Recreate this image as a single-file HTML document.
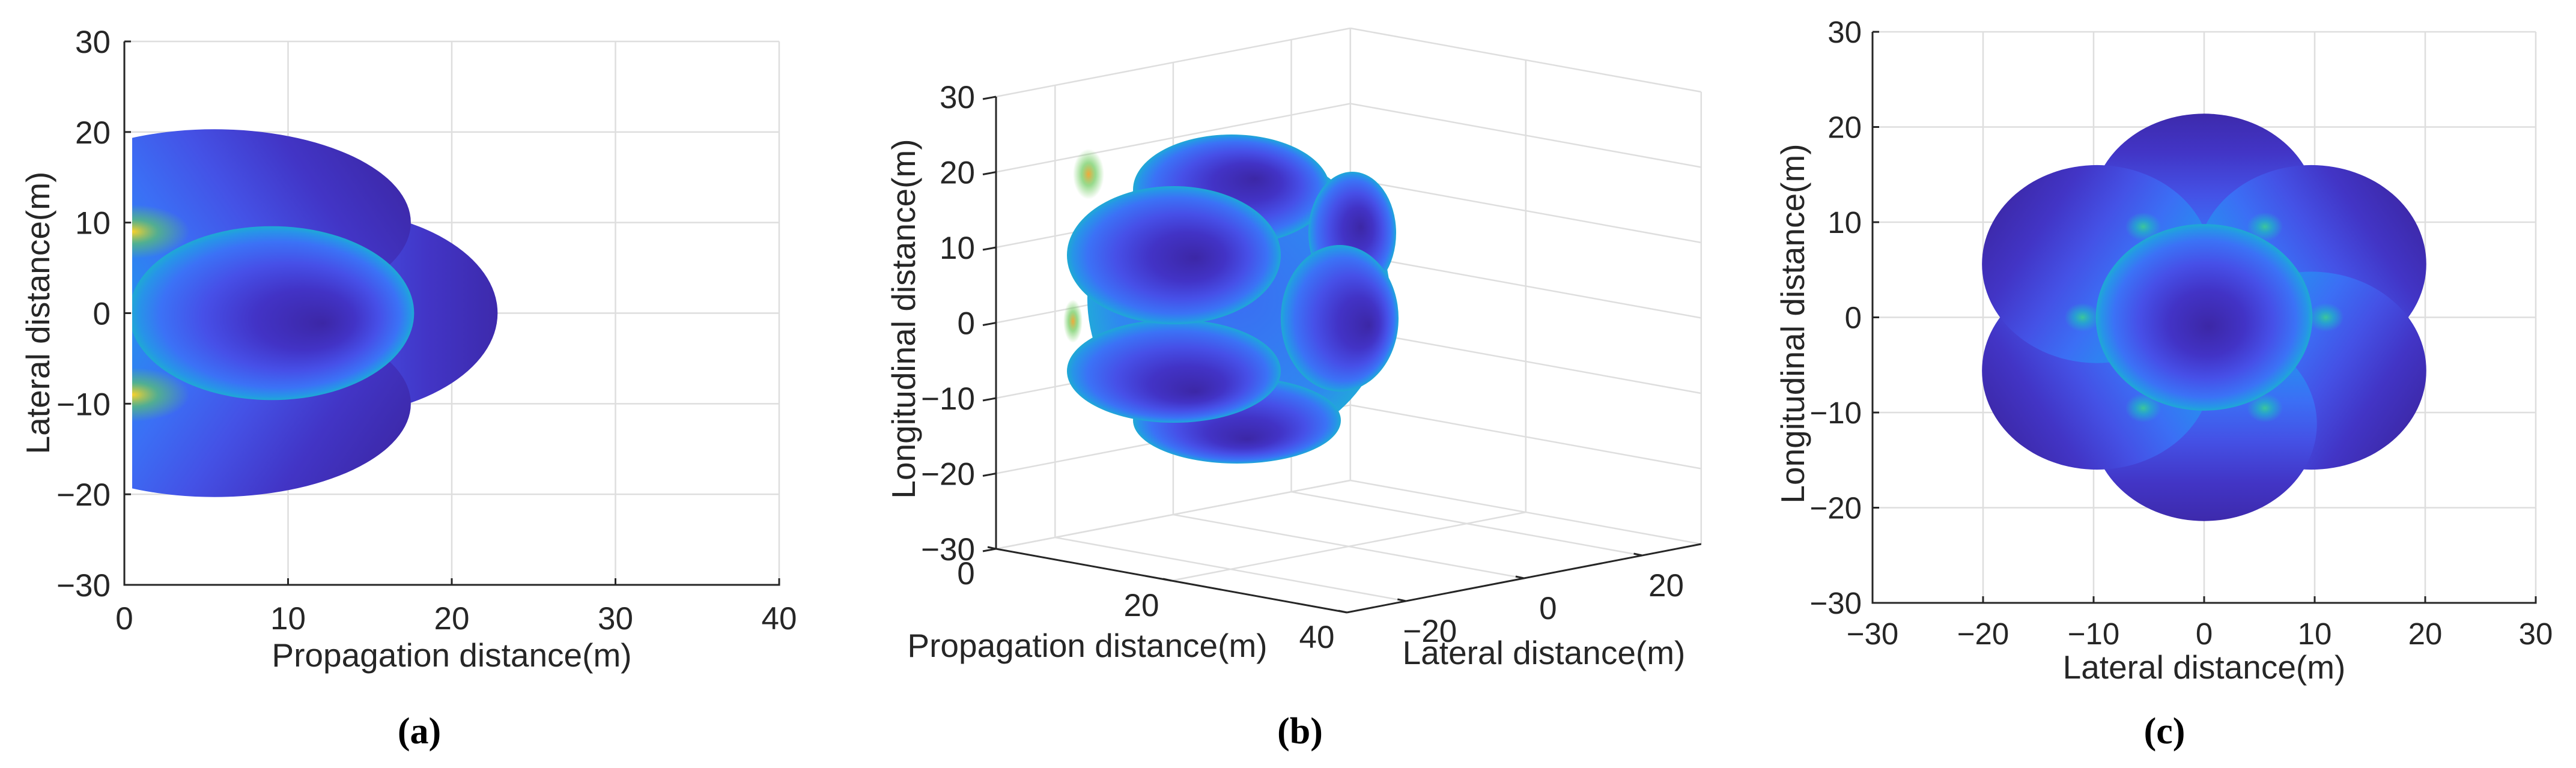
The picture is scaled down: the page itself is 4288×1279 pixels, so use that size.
<!DOCTYPE html>
<html><head><meta charset="utf-8"><style>
html,body{margin:0;padding:0;background:#fff;}
svg{display:block;}
text{font-family:"Liberation Sans",Arial,sans-serif;fill:#262626;}
.cap{font-family:"Liberation Serif",serif;font-weight:bold;fill:#000;}
</style></head><body>
<svg id="fig" width="4288" height="1279" viewBox="0 0 4288 1279" xmlns="http://www.w3.org/2000/svg">
<defs id="defs">
  <clipPath id="clipA"><rect x="220" y="60" width="1080" height="920"/></clipPath>
</defs>
<g id="panelA"></g>
<g id="panelB"></g>
<g id="panelC"></g>
</svg>
<script>
// ---------- data ----------
const aXTicks = [0, 10, 20, 30, 40];
const aYTicks = [-30, -20, -10, 0, 10, 20, 30];
const aLobeCX = [12, 5.5, 5.5];
const aLobeCY = [0, 10, -10];
const aLobeRX = [10.8, 12, 12];
const aLobeRY = [11.5, 10.3, 10.3];
const aLobeDark = [0, 18, -18];
const aMainLobe = [9, 0, 8.7, 9.6];
const aHotY = [9, -9];

const bZTicks = [-30, -20, -10, 0, 10, 20, 30];
const bPropTicks = [0, 20, 40];
const bLatTicks = [-20, 0, 20];
const bLobeX = [2059, 2050, 2251, 2230, 1954, 1954];
const bLobeY = [700, 316, 388, 530, 618, 425];
const bLobeRX = [173, 164, 73, 98, 178, 178];
const bLobeRY = [72, 92, 102, 122, 86, 115];
const bLobeFX = [0.55, 0.62, 0.6, 0.75, 0.6, 0.6];
const bLobeFY = [0.72, 0.4, 0.45, 0.55, 0.7, 0.52];

const cXTicks = [-30, -20, -10, 0, 10, 20, 30];
const cYTicks = [-30, -20, -10, 0, 10, 20, 30];
const cOuterAngle = [90, 30, -30, -90, -150, 150];
const cOuterDist = [11.2, 11.2, 11.2, 11.2, 11.2, 11.2];
const cOuterR = [10.2, 10.4, 10.4, 10.2, 10.4, 10.4];
const cCenterR = [9.8];
const cSpotAngle = [0, 60, 120, 180, 240, 300];

// ---------- helpers ----------
const NS = 'http://www.w3.org/2000/svg';
function mk(tag, attrs, parent) {
  const e = document.createElementNS(NS, tag);
  for (const k in attrs) e.setAttribute(k, attrs[k]);
  parent.appendChild(e);
  return e;
}
const defs = document.getElementById('defs');
let gid = 0;
function radGrad(fx, fy, stops) {
  const id = 'g' + (gid++);
  const g = mk('radialGradient', {id: id, cx: 0.5, cy: 0.5, r: 0.5, fx: fx, fy: fy}, defs);
  stops.forEach(s => mk('stop', {offset: s[0], 'stop-color': s[1]}, g));
  return id;
}
const RSTOPS = [[0, '#3c27a6'], [0.35, '#4233c6'], [0.62, '#4650e8'], [0.84, '#3b72f6'], [0.95, '#2794e8'], [1, '#1fa9d4']];
function linGrad(deg, stops) {
  const id = 'g' + (gid++);
  const a = deg * Math.PI / 180;
  const g = mk('linearGradient', {id: id, x1: 0.5 - 0.5 * Math.cos(a), y1: 0.5 + 0.5 * Math.sin(a), x2: 0.5 + 0.5 * Math.cos(a), y2: 0.5 - 0.5 * Math.sin(a)}, defs);
  stops.forEach(s => mk('stop', {offset: s[0], 'stop-color': s[1]}, g));
  return id;
}
const LSTOPS = [[0, '#1cb0d0'], [0.15, '#2590ee'], [0.38, '#3b6ff5'], [0.58, '#4452e6'], [0.8, '#4235c6'], [1, '#3d2aac']];
function spotGrad(c1, c2) {
  const id = 'g' + (gid++);
  const g = mk('radialGradient', {id: id, cx: 0.5, cy: 0.5, r: 0.5}, defs);
  mk('stop', {offset: 0, 'stop-color': c1, 'stop-opacity': 1}, g);
  mk('stop', {offset: 0.45, 'stop-color': c2, 'stop-opacity': 0.7}, g);
  mk('stop', {offset: 1, 'stop-color': c2, 'stop-opacity': 0}, g);
  return id;
}
const GRID = '#dedede', AX = '#262626';

// ---------- panel A ----------
(function () {
  const P = document.getElementById('panelA');
  const L = 207, R = 1297, T = 69, B = 974;
  const ax = x => L + (x - 0) / 40 * (R - L);
  const ay = y => B - (y + 30) / 60 * (B - T);
  aXTicks.forEach(t => {
    const l = mk('line', {x1: ax(t), x2: ax(t), y1: T, y2: B, stroke: GRID, 'stroke-width': 2.5}, P);
    
    
  });
  aYTicks.forEach(t => {
    const l = mk('line', {x1: L, x2: R, y1: ay(t), y2: ay(t), stroke: GRID, 'stroke-width': 2.5}, P);
    
    
  });
  const surf = mk('g', {'clip-path': 'url(#clipA)'}, P);
  
  
  for (let i = 0; i < aLobeCX.length; i++) {
    const id = linGrad(aLobeDark[i], LSTOPS);
    const e = mk('ellipse', {cx: ax(aLobeCX[i]), cy: ay(aLobeCY[i]), rx: aLobeRX[i] / 40 * (R - L), ry: aLobeRY[i] / 60 * (B - T), fill: 'url(#' + id + ')'}, surf);
    
    
  }
  const mid = radGrad(0.68, 0.56, RSTOPS);
  const me = mk('ellipse', {cx: ax(aMainLobe[0]), cy: ay(aMainLobe[1]), rx: aMainLobe[2] / 40 * (R - L), ry: aMainLobe[3] / 60 * (B - T), fill: 'url(#' + mid + ')'}, surf);
  
  
  aHotY.forEach(y => {
    const id = spotGrad('#fbd02a', '#5cc56a');
    const e = mk('ellipse', {cx: ax(0.5), cy: ay(y), rx: 95, ry: 45, fill: 'url(#' + id + ')'}, surf);
    
    
  });
  const ln = (x1, y1, x2, y2, n) => {
    const l = mk('line', {x1: x1, y1: y1, x2: x2, y2: y2, stroke: AX, 'stroke-width': 3}, P);
    
    
  };
  ln(L, T, L, B + 1.5, 'a-y-axis');
  ln(L - 1.5, B, R + 1.5, B, 'a-x-axis');
  aXTicks.forEach(t => ln(ax(t), B, ax(t), B - 11, 'a-x-tick'));
  aYTicks.forEach(t => ln(L, ay(t), L + 11, ay(t), 'a-y-tick'));
  aXTicks.forEach(t => {
    const tx = mk('text', {x: ax(t), y: 1048, 'font-size': 53, 'text-anchor': 'middle'}, P);
    tx.textContent = String(t);
    
    
  });
  aYTicks.forEach(t => {
    const tx = mk('text', {x: 184, y: ay(t) + 19, 'font-size': 53, 'text-anchor': 'end'}, P);
    tx.textContent = String(t).replace('-', '\u2212');
    
    
  });
  let t1 = mk('text', {x: (L + R) / 2, y: 1110, 'font-size': 55, 'text-anchor': 'middle'}, P);
  t1.textContent = 'Propagation distance(m)';
  
  
  let t2 = mk('text', {x: 0, y: 0, 'font-size': 55, 'text-anchor': 'middle', transform: 'translate(82,521) rotate(-90)'}, P);
  t2.textContent = 'Lateral distance(m)';
  
  
  let c = mk('text', {x: 698, y: 1238, 'font-size': 62, 'text-anchor': 'middle', class: 'cap'}, P);
  c.textContent = '(a)';
  
  
})();

// ---------- panel B ----------
(function () {
  const P = document.getElementById('panelB');
  const O = [1658, 914];
  const u = [14.6, 2.65], v = [9.83, -1.9], w = [0, -12.55];
  const pr = (p, l, z) => [O[0] + p * u[0] + (l + 30) * v[0] + (z + 30) * w[0], O[1] + p * u[1] + (l + 30) * v[1] + (z + 30) * w[1]];
  const seg = (a, b, col, sw, n) => {
    const l = mk('line', {x1: a[0], y1: a[1], x2: b[0], y2: b[1], stroke: col, 'stroke-width': sw}, P);
    
    
  };
  bZTicks.forEach(z => {
    seg(pr(0, -30, z), pr(0, 30, z), GRID, 2.5, 'b-wall-gridline');
    seg(pr(0, 30, z), pr(40, 30, z), GRID, 2.5, 'b-wall-gridline');
  });
  [-30].concat(bLatTicks).concat([30]).forEach(l => seg(pr(0, l, -30), pr(0, l, 30), GRID, 2.5, 'b-wall-gridline'));
  bPropTicks.forEach(p => seg(pr(p, 30, -30), pr(p, 30, 30), GRID, 2.5, 'b-wall-gridline'));
  bLatTicks.forEach(l => seg(pr(0, l, -30), pr(40, l, -30), GRID, 2.5, 'b-floor-gridline'));
  bPropTicks.forEach(p => seg(pr(p, -30, -30), pr(p, 30, -30), GRID, 2.5, 'b-floor-gridline'));
  const surf = mk('g', {}, P);
  
  
  const hot = spotGrad('#f3a93a', '#6ccb5c');
  [[1812, 290, 26, 42], [1786, 535, 16, 36]].forEach(s => {
    const e = mk('ellipse', {cx: s[0], cy: s[1], rx: s[2], ry: s[3], fill: 'url(#' + hot + ')'}, surf);
    
    
  });
  const baseId = radGrad(0.5, 0.5, [[0, '#3a6ef3'], [0.8, '#2f88f0'], [1, '#22a6dc']]);
  const base = mk('ellipse', {cx: 2062, cy: 497, rx: 252, ry: 250, fill: 'url(#' + baseId + ')'}, surf);
  
  
  for (let i = 0; i < bLobeX.length; i++) {
    const id = radGrad(bLobeFX[i], bLobeFY[i], RSTOPS);
    const e = mk('ellipse', {cx: bLobeX[i], cy: bLobeY[i], rx: bLobeRX[i], ry: bLobeRY[i], fill: 'url(#' + id + ')'}, surf);
    
    
  }
  seg(pr(0, -30, -30), pr(0, -30, 30), AX, 3, 'b-z-axis');
  seg(pr(0, -30, -30), pr(40, -30, -30), AX, 3, 'b-prop-axis');
  seg(pr(40, -30, -30), pr(40, 30, -30), AX, 3, 'b-lat-axis');
  bZTicks.forEach(z => { const a = pr(0, -30, z); seg(a, [a[0] - 22, a[1] + 4], AX, 3, 'b-z-tick'); });
  bPropTicks.forEach(p => { const a = pr(p, -30, -30); seg(a, [a[0] - 14, a[1] - 3], AX, 3, 'b-prop-tick'); });
  bLatTicks.forEach(l => { const a = pr(40, l, -30); seg(a, [a[0] - 14, a[1] - 3], AX, 3, 'b-lat-tick'); });
  bZTicks.forEach(z => {
    const a = pr(0, -30, z);
    const tx = mk('text', {x: 1623, y: a[1] + 19, 'font-size': 53, 'text-anchor': 'end'}, P);
    tx.textContent = String(z).replace('-', '\u2212');
    
    
  });
  bPropTicks.forEach(p => {
    const a = pr(p, -30, -30);
    const tx = mk('text', {x: a[0] - 50, y: a[1] + 59, 'font-size': 53, 'text-anchor': 'middle'}, P);
    tx.textContent = String(p);
    
    
  });
  bLatTicks.forEach(l => {
    const a = pr(40, l, -30);
    const tx = mk('text', {x: a[0] + 40, y: a[1] + 68, 'font-size': 53, 'text-anchor': 'middle'}, P);
    tx.textContent = String(l).replace('-', '\u2212');
    
    
  });
  let t1 = mk('text', {x: 1810, y: 1094, 'font-size': 55, 'text-anchor': 'middle'}, P);
  t1.textContent = 'Propagation distance(m)';
  
  
  let t2 = mk('text', {x: 2570, y: 1106, 'font-size': 55, 'text-anchor': 'middle'}, P);
  t2.textContent = 'Lateral distance(m)';
  
  
  let t3 = mk('text', {x: 0, y: 0, 'font-size': 55, 'text-anchor': 'middle', transform: 'translate(1523,531) rotate(-90)'}, P);
  t3.textContent = 'Longitudinal distance(m)';
  
  
  let c = mk('text', {x: 2164, y: 1238, 'font-size': 62, 'text-anchor': 'middle', class: 'cap'}, P);
  c.textContent = '(b)';
  
  
})();

// ---------- panel C ----------
(function () {
  const P = document.getElementById('panelC');
  const L = 3117, R = 4221, T = 53, B = 1004;
  const cx = x => L + (x + 30) / 60 * (R - L);
  const cy = y => B - (y + 30) / 60 * (B - T);
  const sx = (R - L) / 60, sy = (B - T) / 60;
  cXTicks.forEach(t => {
    const l = mk('line', {x1: cx(t), x2: cx(t), y1: T, y2: B, stroke: GRID, 'stroke-width': 2.5}, P);
    
    
  });
  cYTicks.forEach(t => {
    const l = mk('line', {x1: L, x2: R, y1: cy(t), y2: cy(t), stroke: GRID, 'stroke-width': 2.5}, P);
    
    
  });
  const surf = mk('g', {}, P);
  
  
  for (let i = 0; i < cOuterAngle.length; i++) {
    const a = cOuterAngle[i] * Math.PI / 180;
    const x = cOuterDist[i] * Math.cos(a), y = cOuterDist[i] * Math.sin(a);
    const id = linGrad(cOuterAngle[i], LSTOPS);
    const e = mk('ellipse', {cx: cx(x), cy: cy(y), rx: cOuterR[i] * sx, ry: cOuterR[i] * sy, fill: 'url(#' + id + ')'}, surf);
    
    
  }
  const cid = radGrad(0.52, 0.55, RSTOPS);
  const ce = mk('ellipse', {cx: cx(0), cy: cy(0), rx: cCenterR[0] * sx, ry: cCenterR[0] * sy, fill: 'url(#' + cid + ')'}, surf);
  
  
  const sp = spotGrad('#3cc79a', '#1fb3c8');
  cSpotAngle.forEach(d => {
    const a = d * Math.PI / 180;
    const e = mk('ellipse', {cx: cx(11 * Math.cos(a)), cy: cy(11 * Math.sin(a)), rx: 30, ry: 24, fill: 'url(#' + sp + ')'}, surf);
    
    
  });
  const ln = (x1, y1, x2, y2, n) => {
    const l = mk('line', {x1: x1, y1: y1, x2: x2, y2: y2, stroke: AX, 'stroke-width': 3}, P);
    
    
  };
  ln(L, T, L, B + 1.5, 'c-y-axis');
  ln(L - 1.5, B, R + 1.5, B, 'c-x-axis');
  cXTicks.forEach(t => ln(cx(t), B, cx(t), B - 11, 'c-x-tick'));
  cYTicks.forEach(t => ln(L, cy(t), L + 11, cy(t), 'c-y-tick'));
  cXTicks.forEach(t => {
    const tx = mk('text', {x: cx(t), y: 1073, 'font-size': 51, 'text-anchor': 'middle'}, P);
    tx.textContent = String(t).replace('-', '\u2212');
    
    
  });
  cYTicks.forEach(t => {
    const tx = mk('text', {x: 3099, y: cy(t) + 18, 'font-size': 51, 'text-anchor': 'end'}, P);
    tx.textContent = String(t).replace('-', '\u2212');
    
    
  });
  let t1 = mk('text', {x: (L + R) / 2, y: 1130, 'font-size': 55, 'text-anchor': 'middle'}, P);
  t1.textContent = 'Lateral distance(m)';
  
  
  let t2 = mk('text', {x: 0, y: 0, 'font-size': 55, 'text-anchor': 'middle', transform: 'translate(3003,539) rotate(-90)'}, P);
  t2.textContent = 'Longitudinal distance(m)';
  
  
  let c = mk('text', {x: 3603, y: 1238, 'font-size': 62, 'text-anchor': 'middle', class: 'cap'}, P);
  c.textContent = '(c)';
  
  
})();
</script>
</body></html>
